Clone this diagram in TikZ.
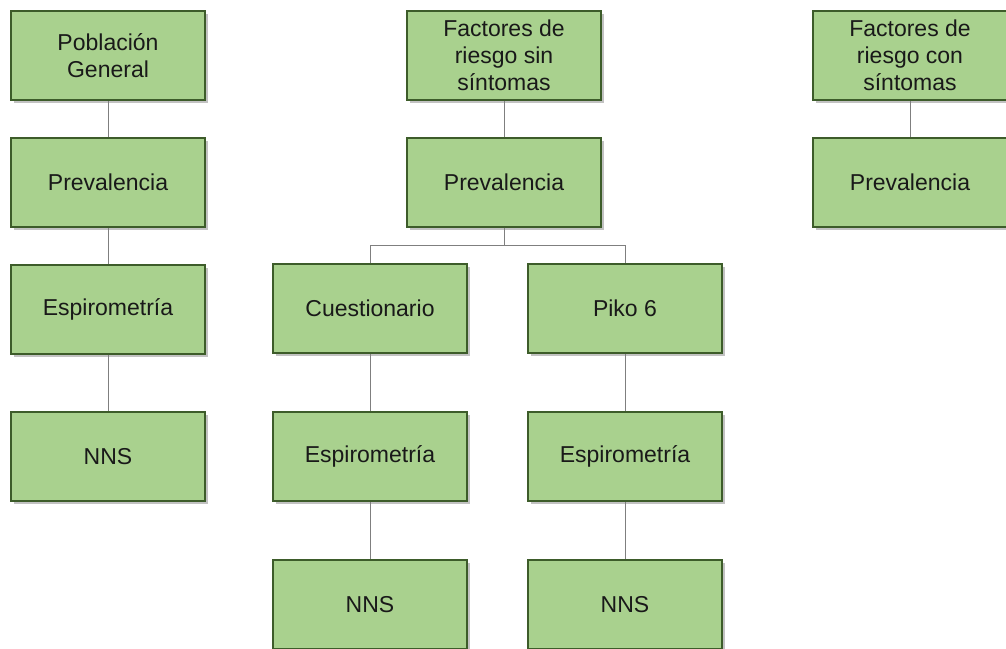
\documentclass[tikz,border=0pt]{standalone}
\usepackage{fontspec}
\setmainfont{Liberation Sans}
\usetikzlibrary{shadows,positioning}
\definecolor{boxfill}{HTML}{A9D18E}
\definecolor{boxline}{HTML}{3D5C2A}
\definecolor{linkgray}{HTML}{7F7F7F}
\tikzset{
  box/.style={draw=boxline, line width=2pt, fill=boxfill, minimum width=194pt, minimum height=89pt,
    inner sep=0pt, align=center, text=black!90,
    font=\fontsize{23}{27}\selectfont,
    drop shadow={shadow xshift=3pt, shadow yshift=-3pt, opacity=0.4, fill=black!60}},
  link/.style={draw=linkgray, line width=1pt}
}
\begin{document}
\begin{tikzpicture}[x=1pt,y=-1pt]
\useasboundingbox (0,0) rectangle (1006,648);
% left column
\node[box] (pg) at (108,55.5) {Población\\General};
\node[box] (p1) at (108,182) {Prevalencia};
\node[box] (e1) at (108,309) {Espirometría};
\node[box] (n1) at (108,456.5) {NNS};
% middle column
\node[box] (fs) at (504,55.5) {Factores de\\riesgo sin\\síntomas};
\node[box] (p2) at (504,182) {Prevalencia};
\node[box] (cu) at (370,308) {Cuestionario};
\node[box] (pk) at (625,308) {Piko 6};
\node[box] (e2) at (370,456.5) {Espirometría};
\node[box] (e3) at (625,456.5) {Espirometría};
\node[box] (n2) at (370,604.5) {NNS};
\node[box] (n3) at (625,604.5) {NNS};
% right column
\node[box] (fc) at (910,55.5) {Factores de\\riesgo con\\síntomas};
\node[box] (p3) at (910,182) {Prevalencia};
\coordinate (bus) at (504,245);
% links
\draw[link] (pg.south) -- (p1.north);
\draw[link] (p1.south) -- (e1.north);
\draw[link] (e1.south) -- (n1.north);
\draw[link] (fs.south) -- (p2.north);
\draw[link] (p2.south) -- (bus) -| (cu.north);
\draw[link] (bus) -| (pk.north);
\draw[link] (cu.south) -- (e2.north);
\draw[link] (pk.south) -- (e3.north);
\draw[link] (e2.south) -- (n2.north);
\draw[link] (e3.south) -- (n3.north);
\draw[link] (fc.south) -- (p3.north);
\end{tikzpicture}
\end{document}
